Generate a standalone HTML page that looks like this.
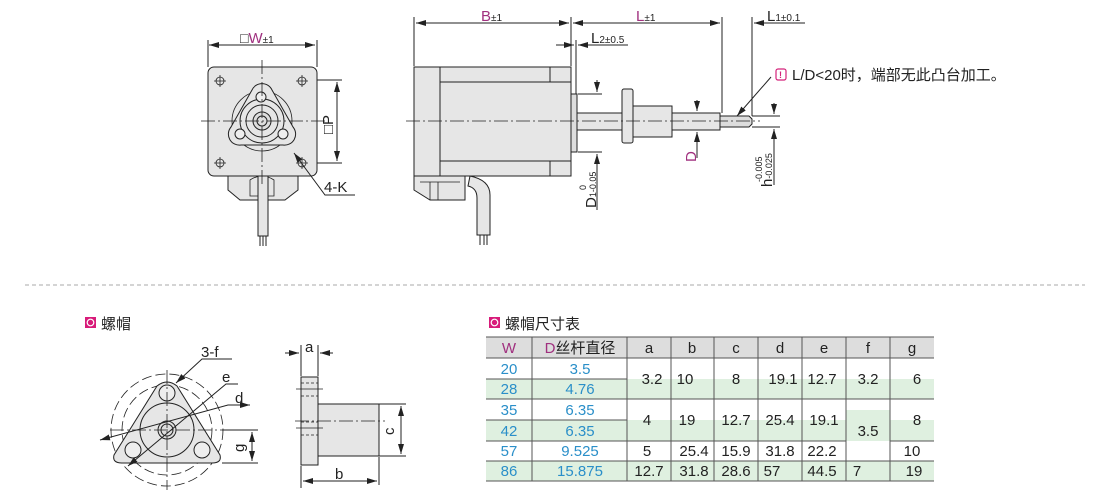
<!DOCTYPE html>
<html><head><meta charset="utf-8"><style>
body{margin:0;background:#fff;width:1110px;height:490px;overflow:hidden}
svg{display:block}
text{font-family:"Liberation Sans","Noto Sans CJK SC",sans-serif}
</style></head><body>
<svg width="1110" height="490" viewBox="0 0 1110 490" xmlns="http://www.w3.org/2000/svg">
<defs>
<marker id="a" viewBox="0 0 10 6" refX="10" refY="3" markerWidth="10" markerHeight="6" orient="auto-start-reverse" markerUnits="userSpaceOnUse"><path d="M0,0L10,3L0,6z" fill="#222"/></marker>
</defs>
<g stroke="#222" stroke-width="1" fill="none">
<!-- FRONT VIEW -->
<path d="M228,176 L298,176 L298,190 L285,200 L240,200 L228,190z" fill="#e6e6e6"/>
<path d="M250,180 Q262,172 274,180 V196 H250z" stroke-width="0.8"/>
<rect x="208" y="67" width="109" height="109" rx="6" fill="#e6e6e6"/>
<circle cx="262" cy="121" r="30" stroke-width="0.8"/>
<path d="M252,90 A11,11 0 0 1 272,90 L293,127 A11,11 0 0 1 283,145 L241,145 A11,11 0 0 1 231,127 Z" fill="#e6e6e6"/>
<circle cx="262" cy="121" r="22" fill="#e6e6e6"/>
<circle cx="262" cy="121" r="16"/>
<circle cx="262" cy="121" r="9" fill="#ddd"/>
<circle cx="262" cy="121" r="5"/>
<circle cx="261" cy="97" r="5" fill="#eee"/><circle cx="240" cy="134" r="5" fill="#eee"/><circle cx="283" cy="134" r="5" fill="#eee"/>
<g stroke-width="0.8">
<circle cx="220" cy="81" r="4"/><path d="M214,81h12M220,75v12"/>
<circle cx="302" cy="81" r="4"/><path d="M296,81h12M302,75v12"/>
<circle cx="220" cy="163" r="4"/><path d="M214,163h12M220,157v12"/>
<circle cx="302" cy="163" r="4"/><path d="M296,163h12M302,157v12"/>
</g>
<rect x="258" y="176" width="10" height="60" fill="#e6e6e6"/>
<path d="M260,236v10M263,236v10M266,236v10"/>
<path d="M201,121H325M262,60V185" stroke-dasharray="14,3,2,3" stroke-width="0.8"/>
<path d="M208,67V40M317,67V40M317,80H342M317,163H342"/>
<path d="M209,45H315" marker-start="url(#a)" marker-end="url(#a)"/>
<path d="M337,82V161" marker-start="url(#a)" marker-end="url(#a)"/>
<path d="M355,195H325L294,153" marker-end="url(#a)"/>
<!-- SIDE VIEW -->
<path d="M414,176 L465,176 L465,200 L430,200 L414,190z" fill="#e6e6e6"/>
<path d="M420,182H460M430,182v18M438,182v18" stroke-width="0.8"/>
<path d="M470,176 Q490,180 490,195 V235 H477 V198 Q477,188 468,186z" fill="#e6e6e6"/>
<path d="M480,235v10M484,235v10M487,235v10"/>
<rect x="414" y="67" width="157" height="109" fill="#e6e6e6"/>
<path d="M440,67V176M440,82H550V67M440,161H550V176M550,82H571M550,161H571"/>
<rect x="571" y="94" width="6" height="58" fill="#ddd"/>
<rect x="577" y="113" width="143" height="17" fill="#e6e6e6"/>
<rect x="622" y="89" width="11" height="54" rx="2" fill="#e6e6e6"/>
<rect x="633" y="106" width="39" height="31" fill="#e6e6e6"/>
<path d="M720,116H749L752,119V124L749,127H720z" fill="#ddd"/>
<path d="M406,121H760" stroke-dasharray="14,3,2,3" stroke-width="0.8"/>
<path d="M414,66V17M571,66V17M722,113V17M752,116V17M576,94V40"/>
<path d="M416,23H569" marker-start="url(#a)" marker-end="url(#a)"/>
<path d="M573,23H720" marker-start="url(#a)" marker-end="url(#a)"/>
<path d="M805,23H754" marker-end="url(#a)"/>
<path d="M556,45H574" marker-end="url(#a)"/>
<path d="M628,45H578" marker-end="url(#a)"/>
<path d="M578,94H602M578,152H602M752,116H780M752,127H780"/>
<path d="M597,80V92" marker-end="url(#a)"/><path d="M597,210V154" marker-end="url(#a)"/>
<path d="M697,100V111" marker-end="url(#a)"/><path d="M697,158V132" marker-end="url(#a)"/>
<path d="M774,103V114" marker-end="url(#a)"/><path d="M774,185V129" marker-end="url(#a)"/>
<path d="M771,77L737,116" marker-end="url(#a)"/>
<!-- separator -->
<path d="M25,285H1085" stroke="#aaa" stroke-dasharray="4,3"/>
<!-- NUT FRONT -->
<circle cx="167" cy="430" r="56" stroke-dasharray="10,4" stroke-width="0.8"/>
<circle cx="167" cy="430" r="45" stroke-dasharray="10,4" stroke-width="0.8"/>
<path d="M157,386 Q167,378 177,386 L220,455 Q222,463 212,463 L122,463 Q112,463 114,455z" fill="#e6e6e6"/>
<circle cx="167" cy="430" r="27"/>
<circle cx="167" cy="430" r="9" fill="#ddd"/><circle cx="167" cy="430" r="6"/>
<circle cx="167" cy="393" r="8" fill="#eee"/><circle cx="133" cy="450" r="8" fill="#eee"/><circle cx="202" cy="450" r="8" fill="#eee"/>
<path d="M110,430H232M167,370V490" stroke-dasharray="14,3,2,3" stroke-width="0.8"/>
<path d="M222,463H258M222,430H258"/>
<path d="M252,432V461" marker-start="url(#a)" marker-end="url(#a)"/>
<path d="M232,359H202L176,383" marker-end="url(#a)"/>
<path d="M238,384H226L128,466" marker-end="url(#a)"/>
<path d="M250,405H228L100,440" marker-start="url(#a)" marker-end="url(#a)"/>
<!-- NUT SIDE -->
<rect x="301" y="377" width="17" height="88" fill="#e6e6e6"/>
<rect x="318" y="404" width="61" height="52" fill="#e6e6e6"/>
<path d="M296,389H323M296,428H323" stroke-width="0.8"/>
<path d="M301,383H318M301,396H318M301,422H318M301,435H318" stroke-dasharray="3,2" stroke-width="0.8"/>
<path d="M295,421H385" stroke-dasharray="14,3,2,3" stroke-width="0.8"/>
<path d="M301,376V345M318,376V345M379,457V485M301,466V488M379,404H406M379,456H406"/>
<path d="M285,353H299" marker-end="url(#a)"/><path d="M333,353H320" marker-end="url(#a)"/>
<path d="M401,406V454" marker-start="url(#a)" marker-end="url(#a)"/>
<path d="M303,481H377" marker-start="url(#a)" marker-end="url(#a)"/>
</g>
<!-- labels -->
<g font-size="15" fill="#222">
<text x="240" y="43"><tspan font-size="14">□</tspan><tspan fill="#a0307f">W</tspan><tspan font-size="10">±1</tspan></text>
<text transform="translate(333,134) rotate(-90)">□P</text>
<text x="324" y="192">4-K</text>
<text x="481" y="21"><tspan fill="#a0307f">B</tspan><tspan font-size="10">±1</tspan></text>
<text x="636" y="21"><tspan fill="#a0307f">L</tspan><tspan font-size="10">±1</tspan></text>
<text x="767" y="21">L<tspan font-size="10">1±0.1</tspan></text>
<text x="591" y="43">L<tspan font-size="10">2±0.5</tspan></text>
<text transform="translate(596,208) rotate(-90)">D<tspan font-size="9">1</tspan><tspan font-size="9">-0.05</tspan></text>
<text transform="translate(586,190) rotate(-90)" font-size="9">0</text>
<text transform="translate(696,162) rotate(-90)" fill="#a0307f">D</text>
<text transform="translate(772,187) rotate(-90)">h<tspan font-size="9">-0.025</tspan></text>
<text transform="translate(762,182) rotate(-90)" font-size="9">-0.005</text>
<rect x="776" y="69" width="10" height="11" rx="2" fill="none" stroke="#d4237a" stroke-width="1.2"/>
<text x="779" y="78" font-size="9" fill="#d4237a" font-weight="bold">!</text>
<text x="792" y="80">L/D&lt;20时，端部无此凸台加工。</text>
<rect x="85" y="317" width="11" height="11" fill="#d81b7a"/><circle cx="90.5" cy="322.5" r="3.3" fill="none" stroke="#fff" stroke-width="1.2"/>
<text x="101" y="329">螺帽</text>
<text x="201" y="357">3-f</text>
<text x="222" y="382">e</text>
<text x="235" y="403">d</text>
<text transform="translate(244,452) rotate(-90)">g</text>
<text x="305" y="352">a</text>
<text transform="translate(394,435) rotate(-90)">c</text>
<text x="335" y="479">b</text>
<rect x="489" y="317" width="11" height="11" fill="#d81b7a"/><circle cx="494.5" cy="322.5" r="3.3" fill="none" stroke="#fff" stroke-width="1.2"/>
<text x="505" y="329">螺帽尺寸表</text>
</g>
<!-- TABLE -->
<g>
<rect x="486" y="337" width="448" height="21" fill="#ddd"/>
<rect x="486" y="379" width="448" height="20" fill="#dff0e0"/>
<rect x="486" y="420" width="360" height="21" fill="#dff0e0"/>
<rect x="890" y="420" width="44" height="21" fill="#dff0e0"/>
<rect x="846" y="410" width="44" height="31" fill="#dff0e0"/>
<rect x="486" y="461" width="448" height="20" fill="#dff0e0"/>
<g stroke="#555" stroke-width="1">
<path d="M486,337H934M486,358H934M486,399H934M486,461H934M486,481H934M486,379H627M486,420H627M486,441H846M890,441H934"/>
<path d="M532,337V481M627,337V481M671,337V481M714,337V481M758,337V481M802,337V481M846,337V481M890,337V481"/>
</g>
<g font-size="15" fill="#222" text-anchor="middle">
<text x="509" y="353" fill="#a0307f">W</text>
<text x="580" y="353"><tspan fill="#a0307f">D</tspan>丝杆直径</text>
<text x="649" y="353">a</text><text x="692" y="353">b</text><text x="736" y="353">c</text><text x="780" y="353">d</text><text x="824" y="353">e</text><text x="868" y="353">f</text><text x="912" y="353">g</text>
<g fill="#2a8fc9">
<text x="509" y="374">20</text><text x="580" y="374">3.5</text>
<text x="509" y="394">28</text><text x="580" y="394">4.76</text>
<text x="509" y="415">35</text><text x="580" y="415">6.35</text>
<text x="509" y="436">42</text><text x="580" y="436">6.35</text>
<text x="509" y="456">57</text><text x="580" y="456">9.525</text>
<text x="509" y="476">86</text><text x="580" y="476">15.875</text>
</g>
<text x="652" y="384">3.2</text><text x="685" y="384">10</text><text x="736" y="384">8</text><text x="783" y="384">19.1</text><text x="822" y="384">12.7</text><text x="868" y="384">3.2</text><text x="917" y="384">6</text>
<text x="647" y="425">4</text><text x="687" y="425">19</text><text x="736" y="425">12.7</text><text x="780" y="425">25.4</text><text x="824" y="425">19.1</text><text x="868" y="436">3.5</text><text x="917" y="425">8</text>
<text x="647" y="456">5</text><text x="694" y="456">25.4</text><text x="736" y="456">15.9</text><text x="780" y="456">31.8</text><text x="822" y="456">22.2</text><text x="912" y="456">10</text>
<text x="649" y="476">12.7</text><text x="694" y="476">31.8</text><text x="736" y="476">28.6</text><text x="772" y="476">57</text><text x="822" y="476">44.5</text><text x="857" y="476">7</text><text x="914" y="476">19</text>
</g>
</g>
</svg>
</body></html>
